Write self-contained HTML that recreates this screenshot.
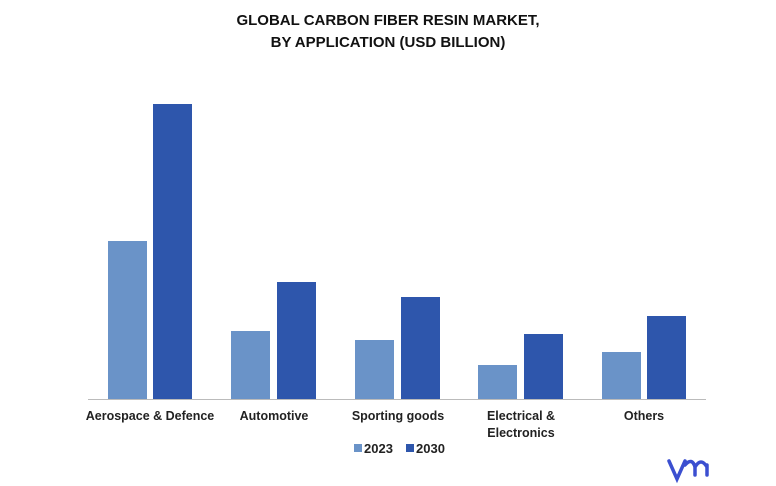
<!DOCTYPE html>
<html><head><style>
body{margin:0;width:776px;height:486px;background:#fff;font-family:"Liberation Sans",sans-serif;position:relative;overflow:hidden}
.t{position:absolute;left:0;width:776px;text-align:center;font-weight:bold;font-size:15px;color:#111;line-height:22px}
.b{position:absolute;bottom:87px;width:39px}
.l{background:#6a93c8}.d{background:#2e56ac}
.x{position:absolute;top:408px;width:140px;text-align:center;font-size:12.5px;font-weight:bold;color:#222;line-height:17px}
</style></head><body>
<div class="t" style="top:10px">GLOBAL CARBON FIBER RESIN MARKET,</div>
<div class="t" style="top:32px">BY APPLICATION (USD BILLION)</div>
<div class="b l" style="left:108px;top:241px"></div>
<div class="b d" style="left:153px;top:104px"></div>
<div class="b l" style="left:231px;top:331px"></div>
<div class="b d" style="left:277px;top:282px"></div>
<div class="b l" style="left:355px;top:340px"></div>
<div class="b d" style="left:401px;top:297px"></div>
<div class="b l" style="left:478px;top:365px"></div>
<div class="b d" style="left:524px;top:334px"></div>
<div class="b l" style="left:602px;top:352px"></div>
<div class="b d" style="left:647px;top:316px"></div>
<div style="position:absolute;left:88px;top:399px;width:618px;height:1px;background:#bbb"></div>
<div class="x" style="left:80px">Aerospace &amp; Defence</div>
<div class="x" style="left:204px">Automotive</div>
<div class="x" style="left:328px">Sporting goods</div>
<div class="x" style="left:451px">Electrical &amp;<br>Electronics</div>
<div class="x" style="left:574px">Others</div>
<div style="position:absolute;left:354px;top:444px;width:8px;height:8px;background:#6a93c8"></div>
<div style="position:absolute;left:364px;top:441px;font-size:13px;font-weight:bold;color:#222">2023</div>
<div style="position:absolute;left:406px;top:444px;width:8px;height:8px;background:#2e56ac"></div>
<div style="position:absolute;left:416px;top:441px;font-size:13px;font-weight:bold;color:#222">2030</div>
<svg style="position:absolute;left:665px;top:455px" width="55" height="30"><path d="M4 6 L12 24 L20 6 M20 10 Q27 2 30 12 L30 20 M30 12 Q36 2 42 12 M42 10 L42 20" stroke="#3b4fd0" stroke-width="3.5" fill="none" stroke-linecap="round"/></svg>
</body></html>
